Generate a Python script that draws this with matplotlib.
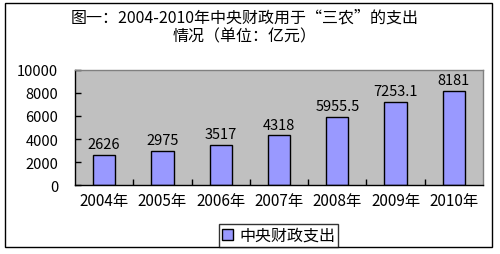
import matplotlib
matplotlib.use('Agg')
import matplotlib.pyplot as plt
from matplotlib.patches import Rectangle, Patch

plt.rcParams['font.family'] = ['Noto Sans CJK SC', 'DejaVu Sans']

# 数据
years = ['2004年', '2005年', '2006年', '2007年', '2008年', '2009年', '2010年']
spending = [2626, 2975, 3517, 4318, 5955.5, 7253.1, 8181]
value_labels = ['2626', '2975', '3517', '4318', '5955.5', '7253.1', '8181']
y_ticks = [0, 2000, 4000, 6000, 8000, 10000]

fig = plt.figure(figsize=(5, 2.55), dpi=100)
fig.patch.set_facecolor('white')

# 外框
fig.patches.append(Rectangle((0.01, 0.027), 0.974, 0.957, transform=fig.transFigure,
                             fill=False, edgecolor='black', linewidth=1))

ax = fig.add_axes([0.15, 0.27, 0.816, 0.452])
ax.set_facecolor('#C0C0C0')

x = list(range(len(years)))
bars = ax.bar(x, spending, width=0.38, color='#9999FF', edgecolor='black',
              linewidth=1, label='中央财政支出')

for xi, v, lab in zip(x, spending, value_labels):
    ax.text(xi, v + 300, lab, ha='center', va='bottom', fontsize=10.5)

ax.set_xlim(-0.5, len(years) - 0.5)
ax.set_ylim(0, 10000)
ax.set_yticks(y_ticks)
ax.set_yticklabels([str(t) for t in y_ticks], fontsize=10.5)
ax.set_xticks(x)
ax.set_xticklabels(years, fontsize=11)
ax.set_xticks([i + 0.5 for i in x[:-1]], minor=True)
ax.tick_params(axis='x', which='major', length=0, pad=5)
ax.tick_params(axis='x', which='minor', direction='in', length=4, width=1)
ax.tick_params(axis='y', direction='in', length=4, width=1, pad=12)

for side in ['left', 'bottom']:
    ax.spines[side].set_color('black')
    ax.spines[side].set_linewidth(1)
for side in ['top', 'right']:
    ax.spines[side].set_color('#808080')
    ax.spines[side].set_linewidth(1)

# 标题
fig.text(0.49, 0.93, '图一：2004-2010年中央财政用于“三农”的支出',
         ha='center', va='center', fontsize=11.5)
fig.text(0.49, 0.855, '情况（单位：亿元）', ha='center', va='center', fontsize=11.5)

# 图例
handle = Patch(facecolor='#9999FF', edgecolor='black', linewidth=1)
leg = fig.legend([handle], ['中央财政支出'], loc='center', bbox_to_anchor=(0.557, 0.073),
                 fontsize=11.5, frameon=True, fancybox=False, handlelength=0.7,
                 handleheight=0.7, handletextpad=0.4, borderpad=0.2)
leg.get_frame().set_edgecolor('black')
leg.get_frame().set_linewidth(1)

fig.savefig('out.png', dpi=100)
